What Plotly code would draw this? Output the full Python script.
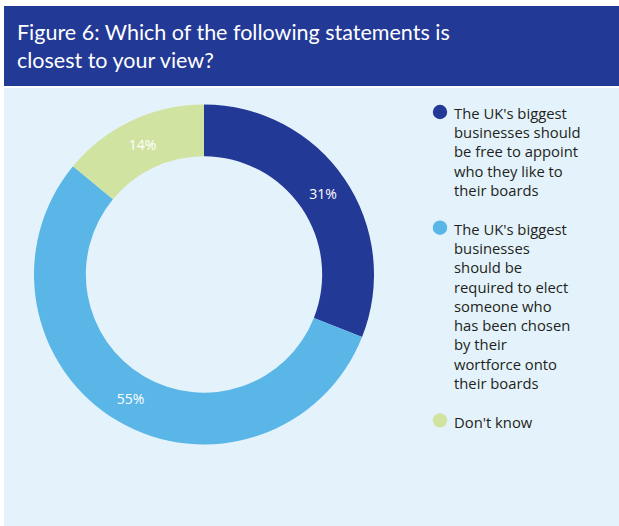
import plotly.graph_objects as go

# Survey responses
labels = [
    "The UK's biggest businesses should be free to appoint who they like to their boards",
    "The UK's biggest businesses should be required to elect someone who has been chosen by their wortforce onto their boards",
    "Don't know",
]
legend_lines = [
    ["The UK's biggest", "businesses should", "be free to appoint", "who they like to", "their boards"],
    ["The UK's biggest", "businesses", "should be", "required to elect", "someone who", "has been chosen", "by their", "wortforce onto", "their boards"],
    ["Don't know"],
]
values = [31, 55, 14]
colors = ["#233996", "#5bb6e8", "#d1e3a1"]

title_text = "Figure 6: Which of the following statements is<br>closest to your view?"

W, H = 619, 526
TITLE_FONT = "Lato"
BODY_FONT = "Open Sans"
LEGEND_SIZE = 14.8


def fx(px):
    return px / W


def fy(py):
    return 1 - py / H


# Donut geometry (pixels)
cx, cy, r = 204, 274.5, 170

fig = go.Figure()
fig.add_trace(go.Pie(
    labels=labels,
    values=values,
    hole=0.695,
    sort=False,
    direction="clockwise",
    rotation=0,
    marker=dict(colors=colors, line=dict(width=0)),
    texttemplate="%{value}%",
    textposition="inside",
    insidetextorientation="horizontal",
    textfont=dict(family=BODY_FONT, size=14, color="white"),
    domain=dict(x=[fx(cx - r), fx(cx + r)], y=[fy(cy + r), fy(cy - r)]),
    showlegend=False,
    hoverinfo="label+percent",
))

shapes = [
    # header band
    dict(type="rect", xref="paper", yref="paper", x0=fx(4), x1=1, y0=fy(86), y1=fy(6),
         fillcolor="#233996", line=dict(width=0), layer="below"),
    # chart panel
    dict(type="rect", xref="paper", yref="paper", x0=fx(4), x1=1, y0=0, y1=fy(88),
         fillcolor="#e4f3fb", line=dict(width=0), layer="below"),
]

annotations = [
    dict(text=title_text, xref="paper", yref="paper", x=fx(15), y=fy(46),
         xanchor="left", yanchor="middle", align="left", showarrow=False,
         font=dict(family=TITLE_FONT, size=21.5, color="white")),
]

# Legend: coloured circles beside wrapped text
line_h = 1.3 * LEGEND_SIZE
item_gap = 19.5
y_first = 112
marker_x = 440
marker_r = 7.2
for lines, col in zip(legend_lines, colors):
    shapes.append(dict(type="circle", xref="paper", yref="paper",
                       x0=fx(marker_x - marker_r), x1=fx(marker_x + marker_r),
                       y0=fy(y_first + marker_r), y1=fy(y_first - marker_r),
                       fillcolor=col, line=dict(width=0)))
    annotations.append(dict(text="<br>".join(lines), xref="paper", yref="paper",
                            x=fx(452), y=fy(y_first - line_h / 2 - 1),
                            xanchor="left", yanchor="top", align="left", showarrow=False,
                            font=dict(family=BODY_FONT, size=LEGEND_SIZE, color="#231f20")))
    y_first += len(lines) * line_h + item_gap

fig.update_layout(
    width=W, height=H,
    margin=dict(l=0, r=0, t=0, b=0),
    paper_bgcolor="white",
    plot_bgcolor="white",
    shapes=shapes,
    annotations=annotations,
)

fig.write_html("out.html")
